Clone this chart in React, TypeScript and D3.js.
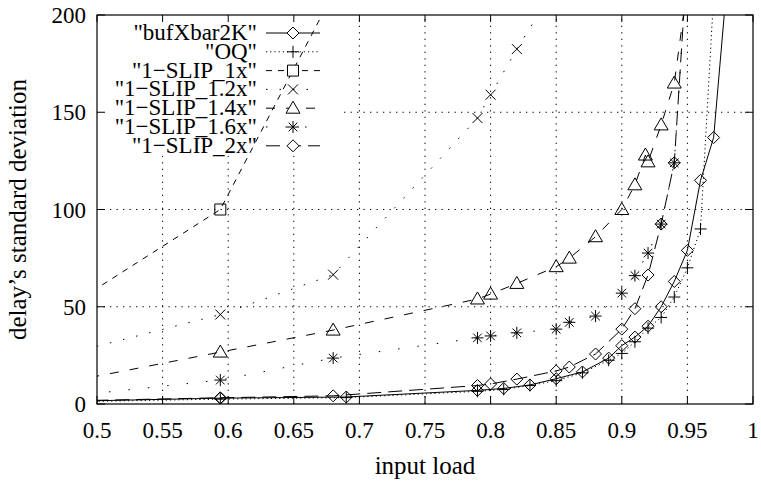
import React from 'react';
import * as d3 from 'd3';

// x values are input load, y values are the delay's standard deviation
const bufXbar2K = [
  [0.45, 1], [0.594, 3], [0.69, 3.6], [0.79, 7], [0.81, 8], [0.83, 9.8], [0.85, 13],
  [0.87, 16.5], [0.89, 23.6], [0.9, 30], [0.91, 34.4], [0.92, 40], [0.93, 50],
  [0.94, 63], [0.95, 79], [0.96, 115], [0.97, 137], [0.98, 215],
];
const oq = [
  [0.45, 0.8], [0.594, 2.5], [0.69, 3.3], [0.79, 6.5], [0.81, 7.5], [0.83, 9.5], [0.85, 12],
  [0.87, 16], [0.89, 22.5], [0.9, 26], [0.91, 32], [0.92, 39], [0.93, 44.5],
  [0.94, 55], [0.95, 70], [0.96, 90], [0.97, 210],
];
const slip1x = [[0.45, 38], [0.594, 100], [0.68, 211]];
const slip12x = [[0.45, 21], [0.594, 46], [0.68, 66.5], [0.79, 147], [0.8, 159], [0.82, 182.5], [0.85, 215]];
const slip14x = [
  [0.45, 7.7], [0.594, 26.7], [0.68, 38], [0.79, 54], [0.8, 56.5], [0.82, 62], [0.85, 70.6],
  [0.86, 75], [0.88, 86], [0.9, 100], [0.91, 112.7], [0.918, 128], [0.92, 124.5],
  [0.93, 143.5], [0.94, 165], [0.95, 215],
];
const slip16x = [
  [0.45, 2], [0.594, 12.3], [0.68, 23.6], [0.79, 34], [0.8, 35], [0.82, 36.6], [0.85, 38.5],
  [0.86, 42], [0.88, 45.2], [0.9, 57], [0.91, 66], [0.92, 77.6], [0.93, 92.5],
  [0.94, 124], [0.95, 230],
];
const slip2x = [
  [0.45, 1.2], [0.594, 3.2], [0.68, 4.2], [0.79, 9.5], [0.8, 10.3], [0.82, 12.8], [0.85, 17],
  [0.86, 19], [0.88, 25.7], [0.9, 38.5], [0.91, 49], [0.92, 66.3], [0.93, 92.5],
  [0.94, 124], [0.95, 230],
];

const xTicks = [0.5, 0.55, 0.6, 0.65, 0.7, 0.75, 0.8, 0.85, 0.9, 0.95, 1];
const yTicks = [0, 50, 100, 150, 200];

const series = [
  { name: '"bufXbar2K"', data: bufXbar2K, dash: null, marker: 'diamond' },
  { name: '"OQ"', data: oq, dash: '1.2,3', marker: 'plus' },
  { name: '"1\u2212SLIP_1x"', data: slip1x, dash: '6,6', marker: 'square' },
  { name: '"1\u2212SLIP_1.2x"', data: slip12x, dash: '1.5,12', marker: 'cross' },
  { name: '"1\u2212SLIP_1.4x"', data: slip14x, dash: '9,11', marker: 'triangle' },
  { name: '"1\u2212SLIP_1.6x"', data: slip16x, dash: '1.5,18', marker: 'star' },
  { name: '"1\u2212SLIP_2x"', data: slip2x, dash: '14,7', marker: 'diamond' },
];

const W = 761, H = 489;
const m = { left: 97, right: 8, top: 15, bottom: 85 };
const FONT = '"Liberation Serif", "Times New Roman", serif';

function markerPath(kind: string, cx: number, cy: number) {
  const p = d3.path();
  if (kind === 'diamond') {
    const r = 6;
    p.moveTo(cx, cy - r); p.lineTo(cx + r, cy); p.lineTo(cx, cy + r); p.lineTo(cx - r, cy); p.closePath();
  } else if (kind === 'plus') {
    const r = 6;
    p.moveTo(cx - r, cy); p.lineTo(cx + r, cy); p.moveTo(cx, cy - r); p.lineTo(cx, cy + r);
  } else if (kind === 'square') {
    const r = 5.5;
    p.rect(cx - r, cy - r, 2 * r, 2 * r);
  } else if (kind === 'cross') {
    const r = 5;
    p.moveTo(cx - r, cy - r); p.lineTo(cx + r, cy + r); p.moveTo(cx - r, cy + r); p.lineTo(cx + r, cy - r);
  } else if (kind === 'triangle') {
    const r = 7;
    p.moveTo(cx, cy - r); p.lineTo(cx + r, cy + 5); p.lineTo(cx - r, cy + 5); p.closePath();
  } else if (kind === 'star') {
    const r = 6, d = 4.3;
    p.moveTo(cx - r, cy); p.lineTo(cx + r, cy); p.moveTo(cx, cy - r); p.lineTo(cx, cy + r);
    p.moveTo(cx - d, cy - d); p.lineTo(cx + d, cy + d); p.moveTo(cx - d, cy + d); p.lineTo(cx + d, cy - d);
  }
  return p.toString();
}

export default function App() {
  const x = d3.scaleLinear().domain([0.5, 1]).range([m.left, W - m.right]);
  const y = d3.scaleLinear().domain([0, 200]).range([H - m.bottom, m.top]);
  const line = d3.line<number[]>().x(d => x(d[0])).y(d => y(d[1]));
  const x0 = x(0.5), x1 = x(1), y0 = y(0), y1 = y(200);

  // legend layout
  const legTextX = 257, legLine0 = 266, legLine1 = 320, legTop = 33, legStep = 18.8;

  return (
    <div style={{ position: 'absolute', left: 0, top: 0 }}>
      <svg width={W} height={H} style={{ display: 'block', background: '#fff' }} fontFamily={FONT}>
        <defs>
          <clipPath id="plot"><rect x={x0} y={y1} width={x1 - x0} height={y0 - y1} /></clipPath>
        </defs>

        {/* grid */}
        <g stroke="#000" strokeWidth={1} strokeDasharray="1.3,5.2">
          {xTicks.slice(1, -1).map(t => (
            <line key={'gx' + t} x1={x(t)} x2={x(t)} y1={y0} y2={y1} />
          ))}
          {yTicks.slice(1, -1).map(t => (
            <line key={'gy' + t} x1={x0} x2={x1} y1={y(t)} y2={y(t)} />
          ))}
        </g>
        {/* key box background hides the grid */}
        <rect x={x0 + 1} y={y1 + 1} width={244} height={140} fill="#fff" />

        {/* ticks, mirrored on all sides */}
        <g stroke="#000" strokeWidth={1}>
          {xTicks.map(t => (
            <g key={'tx' + t}>
              <line x1={x(t)} x2={x(t)} y1={y0} y2={y0 - 8} />
              <line x1={x(t)} x2={x(t)} y1={y1} y2={y1 + 7} />
            </g>
          ))}
          {yTicks.map(t => (
            <g key={'ty' + t}>
              <line x1={x0} x2={x0 + 8} y1={y(t)} y2={y(t)} />
              <line x1={x1} x2={x1 - 8} y1={y(t)} y2={y(t)} />
            </g>
          ))}
        </g>

        {/* series */}
        <g clipPath="url(#plot)" fill="none" stroke="#000" strokeWidth={1}>
          {series.map(s => (
            <g key={s.name}>
              <path d={line(s.data) || ''} strokeDasharray={s.dash || undefined} />
              {s.data.map((d, i) => (
                <path key={i} d={markerPath(s.marker, x(d[0]), y(d[1]))} />
              ))}
            </g>
          ))}
        </g>

        <rect x={x0} y={y1} width={x1 - x0} height={y0 - y1} fill="none" stroke="#000" strokeWidth={1.2} />

        {/* legend */}
        <g fontSize={23}>
          {series.map((s, i) => {
            const ly = legTop + i * legStep;
            return (
              <g key={'leg' + i}>
                <text x={legTextX} y={ly + 7} textAnchor="end">{s.name}</text>
                <line x1={legLine0} x2={legLine1} y1={ly} y2={ly} stroke="#000" strokeDasharray={s.dash || undefined} />
                <path d={markerPath(s.marker, (legLine0 + legLine1) / 2, ly)} fill="#fff" stroke="#000" />
              </g>
            );
          })}
        </g>

        {/* tick labels */}
        <g fontSize={23}>
          {xTicks.map(t => (
            <text key={'lx' + t} x={x(t)} y={y0 + 34} textAnchor="middle">{String(t)}</text>
          ))}
          {yTicks.map(t => (
            <text key={'ly' + t} x={x0 - 11} y={y(t) + 8} textAnchor="end">{t}</text>
          ))}
        </g>

        <text x={(x0 + x1) / 2} y={474} fontSize={25} textAnchor="middle">input load</text>
        <text transform={`translate(26,${(y0 + y1) / 2}) rotate(-90)`} fontSize={25} textAnchor="middle">
          delay’s standard deviation
        </text>
      </svg>
    </div>
  );
}
